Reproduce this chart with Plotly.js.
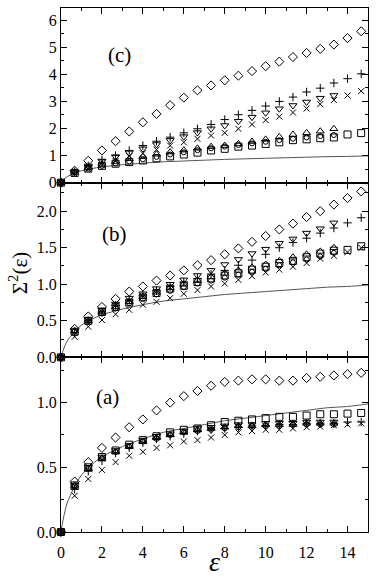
<!DOCTYPE html>
<html>
<head>
<meta charset="utf-8">
<script src="https://cdn.plot.ly/plotly-3.0.1.min.js"></script>
<style>
  html, body { margin: 0; padding: 0; background: #fff; }
  #chart { width: 377px; height: 579px; }
</style>
</head>
<body>
<div id="chart"></div>
<script>
// epsilon grid of the data points
const eps = [0, 0.667, 1.333, 2, 2.667, 3.333, 4, 4.667, 5.333, 6, 6.667, 7.333,
             8, 8.667, 9.333, 10, 10.667, 11.333, 12, 12.667, 13.333, 14, 14.667];

// reference curve (solid line)
const curveX = [0, 0.05, 0.1, 0.2, 0.3, 0.45, 0.667, 1, 1.5, 2, 3, 4, 5, 6, 7, 8, 9, 10, 11, 12, 13, 14, 15];
const curveY = [0, 0.048, 0.091, 0.165, 0.224, 0.28, 0.355, 0.44, 0.52, 0.58, 0.66, 0.72, 0.77, 0.80,
                0.83, 0.86, 0.88, 0.90, 0.92, 0.94, 0.96, 0.97, 0.99];

// panel (c)
const cDiamond = [0, 0.44, 0.81, 1.19, 1.53, 1.89, 2.23, 2.54, 2.86, 3.14, 3.41, 3.59, 3.78, 3.95, 4.12, 4.30, 4.47, 4.64, 4.79, 4.94, 5.10, 5.34, 5.59];
const cPlus    = [0, 0.40, 0.62, 0.84, 1.00, 1.19, 1.37, 1.53, 1.68, 1.84, 1.99, 2.15, 2.33, 2.51, 2.67, 2.83, 3.00, 3.16, 3.35, 3.49, 3.68, 3.84, 4.02];
const cTriDown = [0, 0.40, 0.62, 0.80, 0.96, 1.10, 1.25, 1.41, 1.56, 1.70, 1.85, 1.99, 2.11, 2.27, 2.42, 2.58, 2.73, 2.85, 2.98, 3.12, 3.22];
const cCross   = [0, 0.33, 0.50, 0.64, 0.80, 0.97, 1.08, 1.22, 1.37, 1.49, 1.62, 1.74, 1.84, 1.99, 2.15, 2.31, 2.44, 2.59, 2.74, 2.90, 3.05, 3.22, 3.38];
const cTriUp   = [0, 0.38, 0.56, 0.68, 0.78, 0.88, 0.96, 1.05, 1.13, 1.20, 1.27, 1.33, 1.37, 1.43, 1.52, 1.60, 1.69, 1.78, 1.84, 1.90, 1.99];
const cCircle  = [0, 0.38, 0.52, 0.62, 0.70, 0.78, 0.86, 0.95, 1.04, 1.12, 1.20, 1.27, 1.33, 1.39, 1.45, 1.51, 1.57, 1.62, 1.67, 1.72, 1.76];
const cSquare  = [0, 0.36, 0.52, 0.62, 0.70, 0.76, 0.82, 0.90, 0.97, 1.04, 1.11, 1.19, 1.25, 1.33, 1.37, 1.43, 1.49, 1.57, 1.60, 1.64, 1.67, 1.78, 1.83];

// panel (b)
const bDiamond = [0, 0.39, 0.56, 0.69, 0.80, 0.90, 0.97, 1.05, 1.12, 1.19, 1.26, 1.33, 1.41, 1.49, 1.58, 1.66, 1.75, 1.83, 1.92, 2.00, 2.09, 2.18, 2.27];
const bPlus    = [0, 0.34, 0.50, 0.62, 0.71, 0.78, 0.85, 0.91, 0.97, 1.03, 1.08, 1.14, 1.19, 1.26, 1.33, 1.41, 1.50, 1.57, 1.63, 1.70, 1.77, 1.84, 1.91];
const bTriDown = [0, 0.36, 0.52, 0.65, 0.73, 0.81, 0.87, 0.94, 1.00, 1.06, 1.12, 1.19, 1.27, 1.34, 1.42, 1.48, 1.56, 1.62, 1.70, 1.76, 1.84];
const bCross   = [0, 0.28, 0.42, 0.51, 0.59, 0.65, 0.72, 0.76, 0.81, 0.87, 0.92, 0.97, 1.01, 1.06, 1.11, 1.16, 1.20, 1.24, 1.29, 1.35, 1.39, 1.44, 1.50];
const bTriUp   = [0, 0.36, 0.50, 0.62, 0.69, 0.76, 0.83, 0.89, 0.95, 1.00, 1.05, 1.10, 1.15, 1.19, 1.23, 1.27, 1.32, 1.37, 1.41, 1.45, 1.50];
const bCircle  = [0, 0.35, 0.49, 0.60, 0.67, 0.74, 0.80, 0.86, 0.91, 0.96, 1.01, 1.05, 1.09, 1.13, 1.17, 1.21, 1.26, 1.30, 1.34, 1.38, 1.43];
const bSquare  = [0, 0.35, 0.50, 0.62, 0.69, 0.75, 0.82, 0.88, 0.94, 0.98, 1.03, 1.08, 1.12, 1.15, 1.20, 1.24, 1.29, 1.32, 1.37, 1.42, 1.46, 1.47, 1.52];

// panel (a)
const aDiamond = [0, 0.39, 0.54, 0.65, 0.73, 0.81, 0.87, 0.94, 1.00, 1.05, 1.09, 1.13, 1.16, 1.17, 1.18, 1.18, 1.17, 1.17, 1.19, 1.20, 1.21, 1.22, 1.23];
const aPlus    = [0, 0.33, 0.47, 0.55, 0.61, 0.65, 0.69, 0.72, 0.74, 0.76, 0.78, 0.79, 0.80, 0.81, 0.82, 0.82, 0.83, 0.83, 0.84, 0.84, 0.84, 0.85, 0.85];
const aTriDown = [0, 0.36, 0.50, 0.58, 0.63, 0.67, 0.71, 0.74, 0.76, 0.78, 0.80, 0.81, 0.82, 0.83, 0.83, 0.84, 0.84, 0.84, 0.85, 0.85, 0.85];
const aCross   = [0, 0.28, 0.41, 0.48, 0.54, 0.59, 0.62, 0.65, 0.67, 0.70, 0.71, 0.73, 0.75, 0.77, 0.78, 0.79, 0.79, 0.80, 0.81, 0.815, 0.825, 0.83, 0.84];
const aTriUp   = [0, 0.36, 0.49, 0.57, 0.62, 0.66, 0.70, 0.73, 0.75, 0.77, 0.79, 0.80, 0.81, 0.82, 0.82, 0.83, 0.83, 0.83, 0.84, 0.84, 0.84];
const aCircle  = [0, 0.35, 0.49, 0.57, 0.62, 0.66, 0.70, 0.72, 0.75, 0.77, 0.78, 0.79, 0.80, 0.81, 0.82, 0.82, 0.82, 0.83, 0.83, 0.83, 0.83];
const aSquare  = [0, 0.36, 0.50, 0.58, 0.63, 0.675, 0.71, 0.74, 0.77, 0.79, 0.80, 0.825, 0.85, 0.86, 0.87, 0.88, 0.89, 0.89, 0.90, 0.91, 0.91, 0.915, 0.92];

const serif = '"Liberation Serif", serif';

// marker style per series: symbol, size
const styles = [
  ['diamond-open', 7],
  ['cross-thin-open', 6],
  ['triangle-down-open', 7],
  ['x-thin-open', 6],
  ['triangle-up-open', 7],
  ['circle-open', 5],
  ['square-open', 7]
];

const traces = [];
function addPanel(series, xa, ya) {
  traces.push({
    x: curveX, y: curveY, xaxis: xa, yaxis: ya,
    type: 'scatter', mode: 'lines',
    line: { color: '#555', width: 1, shape: 'spline' },
    hoverinfo: 'skip'
  });
  series.forEach((ys, i) => {
    traces.push({
      x: eps.slice(0, ys.length), y: ys, xaxis: xa, yaxis: ya,
      type: 'scatter', mode: 'markers', cliponaxis: false,
      marker: { symbol: styles[i][0], size: styles[i][1], color: 'black',
                line: { color: 'black', width: 1 } }
    });
  });
}
addPanel([aDiamond, aPlus, aTriDown, aCross, aTriUp, aCircle, aSquare], 'x', 'y');
addPanel([bDiamond, bPlus, bTriDown, bCross, bTriUp, bCircle, bSquare], 'x2', 'y2');
addPanel([cDiamond, cPlus, cTriDown, cCross, cTriUp, cCircle, cSquare], 'x3', 'y3');

const tickFont = { family: serif, size: 16, color: 'black' };

function xAxis(anchor, showLabels) {
  return {
    anchor: anchor, range: [0, 15], tick0: 0, dtick: 2,
    ticks: 'inside', ticklen: 6, tickwidth: 1, tickcolor: 'black',
    minor: { ticks: 'inside', ticklen: 3, dtick: 1, tickcolor: 'black', showgrid: false },
    showline: true, linecolor: 'black', linewidth: 1, mirror: 'ticks',
    showgrid: false, zeroline: false, showticklabels: showLabels,
    ticklabelstandoff: 6, tickfont: tickFont
  };
}
function yAxis(anchor, domain, top, major, fmt) {
  return {
    anchor: anchor, domain: domain, range: [0, top], tick0: 0, dtick: major,
    tickformat: fmt,
    ticks: 'inside', ticklen: 6, tickwidth: 1, tickcolor: 'black',
    minor: { ticks: 'inside', ticklen: 3, dtick: major / 2, tickcolor: 'black', showgrid: false },
    showline: true, linecolor: 'black', linewidth: 1, mirror: 'ticks',
    showgrid: false, zeroline: false, tickfont: tickFont
  };
}

function label(text, x, y, size, angle) {
  return { text: text, xref: 'paper', yref: 'paper', x: x, y: y,
           xanchor: 'center', yanchor: 'middle', textangle: angle || 0,
           showarrow: false, font: { family: serif, size: size, color: 'black' } };
}

const layout = {
  width: 377, height: 579,
  margin: { l: 61, r: 9, t: 8, b: 47 },
  paper_bgcolor: 'white', plot_bgcolor: 'white',
  showlegend: false,
  font: { family: serif, color: 'black' },
  xaxis: xAxis('y', true),
  xaxis2: xAxis('y2', false),
  xaxis3: xAxis('y3', false),
  yaxis: yAxis('x', [0, 1 / 3], 1.35, 0.5, '.1f'),
  yaxis2: yAxis('x2', [1 / 3, 2 / 3], 2.39, 0.5, '.1f'),
  yaxis3: yAxis('x3', [2 / 3, 1], 6.45, 1, 'd'),
  annotations: [
    label('(c)', 0.189, 0.910, 21),
    label('(b)', 0.173, 0.569, 21),
    label('(a)', 0.150, 0.258, 21),
    label('Σ<sup>2</sup>(ε)', -0.14, 0.494, 21, -90),
    label('<i>ε</i>', 0.5, -0.057, 28)
  ]
};

Plotly.newPlot('chart', traces, layout, { displayModeBar: false, staticPlot: true });
</script>
</body>
</html>
